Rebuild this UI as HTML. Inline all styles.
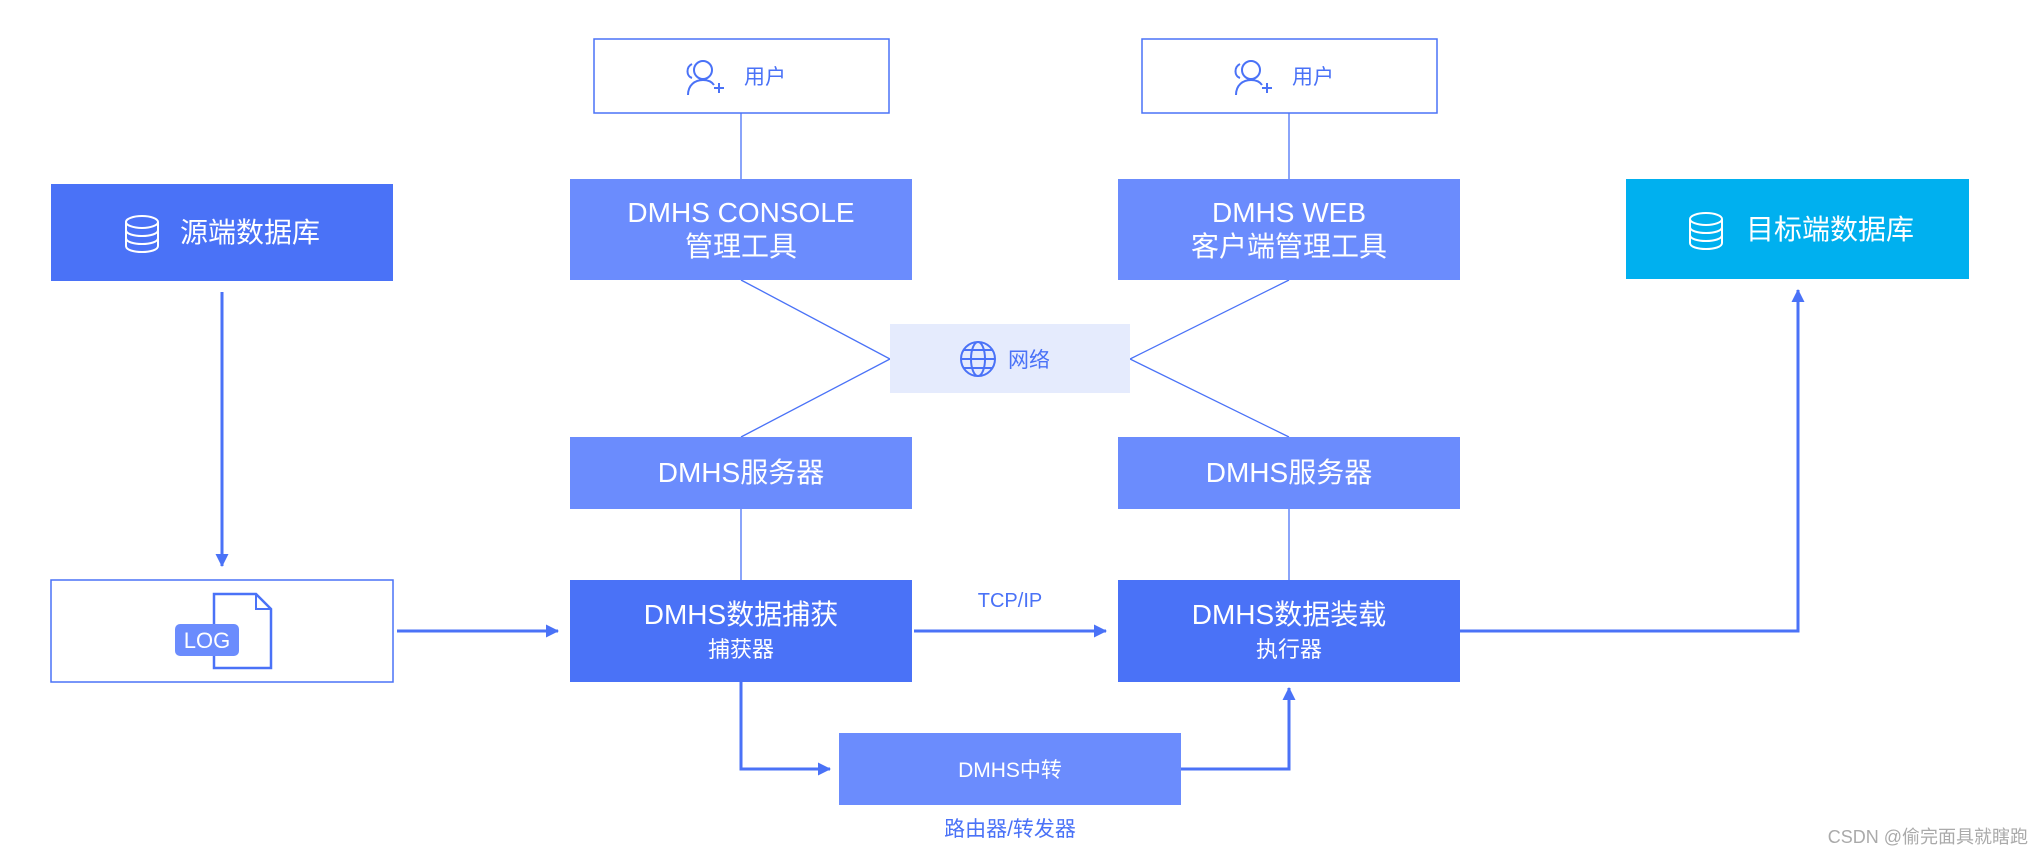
<!DOCTYPE html>
<html><head><meta charset="utf-8"><style>
body{margin:0;background:#fff;width:2032px;height:857px;overflow:hidden}
svg text{font-family:"Liberation Sans","Noto Sans CJK SC",sans-serif}
</style></head><body>
<svg width="2032" height="857" viewBox="0 0 2032 857" xmlns="http://www.w3.org/2000/svg">
<defs><marker id="a" markerWidth="13" markerHeight="13" refX="12" refY="6.5" orient="auto" markerUnits="userSpaceOnUse"><path d="M0,0 L13,6.5 L0,13z" fill="#4a72f7"/></marker></defs>
<g stroke="#4a72f7" stroke-width="1.3" fill="none">
<line x1="741" y1="113" x2="741" y2="179"/>
<line x1="1289" y1="113" x2="1289" y2="179"/>
<polyline points="741,280 890,359 741,437"/>
<polyline points="1289,280 1130,359 1289,437"/>
<line x1="741" y1="509" x2="741" y2="580"/>
<line x1="1289" y1="509" x2="1289" y2="580"/>
</g>
<g stroke="#4a72f7" stroke-width="3" fill="none">
<line x1="222" y1="292" x2="222" y2="566" marker-end="url(#a)"/>
<line x1="397" y1="631" x2="558" y2="631" marker-end="url(#a)"/>
<line x1="914" y1="631" x2="1106" y2="631" marker-end="url(#a)"/>
<polyline points="1460,631 1798,631 1798,290" marker-end="url(#a)"/>
<polyline points="741,682 741,769 830,769" marker-end="url(#a)"/>
<polyline points="1181,769 1289,769 1289,688" marker-end="url(#a)"/>
</g>
<rect x="594" y="39" width="295" height="74" fill="#fff" stroke="#4a72f7" stroke-width="1.5"/>
<rect x="1142" y="39" width="295" height="74" fill="#fff" stroke="#4a72f7" stroke-width="1.5"/>
<rect x="51" y="184" width="342" height="97" fill="#4a72f7"/>
<rect x="570" y="179" width="342" height="101" fill="#6b8cfd"/>
<rect x="1118" y="179" width="342" height="101" fill="#6b8cfd"/>
<rect x="1626" y="179" width="343" height="100" fill="#00b0ef"/>
<rect x="890" y="324" width="240" height="69" fill="#e5ebfd"/>
<rect x="570" y="437" width="342" height="72" fill="#6b8cfd"/>
<rect x="1118" y="437" width="342" height="72" fill="#6b8cfd"/>
<rect x="51" y="580" width="342" height="102" fill="#fff" stroke="#4a72f7" stroke-width="1.5"/>
<rect x="570" y="580" width="342" height="102" fill="#4a72f7"/>
<rect x="1118" y="580" width="342" height="102" fill="#4a72f7"/>
<rect x="839" y="733" width="342" height="72" fill="#6b8cfd"/>
<g fill="none" stroke="#4a72f7" stroke-width="2">
<circle cx="703" cy="70" r="9"/><path d="M688,95 c0-10 7-15 15-15 c5 0 9 2 11 5"/><path d="M714,88 h10 M719,83 v10"/><path d="M692,64 c-6 3-6 12 0 14"/>
<circle cx="1251" cy="70" r="9"/><path d="M1236,95 c0-10 7-15 15-15 c5 0 9 2 11 5"/><path d="M1262,88 h10 M1267,83 v10"/><path d="M1240,64 c-6 3-6 12 0 14"/>
</g>
<g fill="none" stroke="#fff" stroke-width="2">
<ellipse cx="142" cy="222" rx="16" ry="6"/><path d="M126,222 v24 c0,8 32,8 32,0 v-24 M126,230 c0,8 32,8 32,0 M126,238 c0,8 32,8 32,0"/>
<ellipse cx="1706" cy="219" rx="16" ry="6"/><path d="M1690,219 v24 c0,8 32,8 32,0 v-24 M1690,227 c0,8 32,8 32,0 M1690,235 c0,8 32,8 32,0"/>
</g>
<g fill="none" stroke="#4a72f7" stroke-width="2"><circle cx="978" cy="359" r="17"/><ellipse cx="978" cy="359" rx="7" ry="17"/><line x1="961" y1="359" x2="995" y2="359"/><path d="M964,350 h28 M964,368 h28"/></g>
<path d="M214,594 h42 l15,15 v59 h-57 z" fill="#fff" stroke="#4a72f7" stroke-width="2.5"/>
<path d="M256,594 v15 h15" fill="none" stroke="#4a72f7" stroke-width="2"/>
<rect x="175" y="624" width="64" height="32" rx="5" fill="#6b8cfd"/>
<text x="207" y="648" font-size="22" fill="#fff" text-anchor="middle">LOG</text>
<g font-size="21" fill="#4a72f7">
<text x="744" y="84">用户</text><text x="1292" y="84">用户</text>
<text x="1008" y="367">网络</text>
<text x="1010" y="607" text-anchor="middle" font-size="20">TCP/IP</text>
<text x="1010" y="836" text-anchor="middle">路由器/转发器</text>
</g>
<g fill="#fff" text-anchor="middle">
<text x="250" y="242" font-size="28">源端数据库</text>
<text x="741" y="222" font-size="28">DMHS CONSOLE</text>
<text x="741" y="256" font-size="28">管理工具</text>
<text x="1289" y="222" font-size="28">DMHS WEB</text>
<text x="1289" y="256" font-size="28">客户端管理工具</text>
<text x="1830" y="239" font-size="28">目标端数据库</text>
<text x="741" y="482" font-size="28">DMHS服务器</text>
<text x="1289" y="482" font-size="28">DMHS服务器</text>
<text x="741" y="624" font-size="28">DMHS数据捕获</text>
<text x="741" y="657" font-size="22">捕获器</text>
<text x="1289" y="624" font-size="28">DMHS数据装载</text>
<text x="1289" y="657" font-size="22">执行器</text>
<text x="1010" y="777" font-size="21">DMHS中转</text>
</g>
<text x="2028" y="843" font-size="18" fill="#aaa" text-anchor="end">CSDN @偷完面具就瞎跑</text>
</svg>
</body></html>
